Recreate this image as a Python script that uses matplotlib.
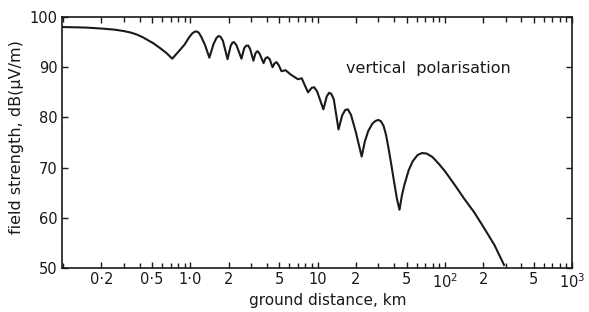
import numpy as np
import matplotlib
matplotlib.use('Agg')
import matplotlib.pyplot as plt
from matplotlib.ticker import FixedLocator, NullFormatter

# curve: ground distance (km) vs field strength (dB uV/m)
dist_km = [0.1, 0.15, 0.2, 0.25, 0.3, 0.34, 0.38, 0.42, 0.47, 0.51, 0.55, 0.6,
           0.65, 0.72, 0.8, 0.9, 0.98, 1.04, 1.09, 1.13, 1.17, 1.22, 1.3, 1.41,
           1.52, 1.6, 1.66, 1.72, 1.8, 1.96, 2.07, 2.14, 2.2, 2.3, 2.52, 2.65,
           2.75, 2.85, 2.95, 3.13, 3.25, 3.37, 3.5, 3.76, 3.9, 4.04, 4.2, 4.42,
           4.6, 4.76, 4.95, 5.2, 5.6, 6.1, 7.0, 7.5, 8.4, 9.0, 9.4, 9.9,
           11.1, 11.8, 12.3, 12.8, 13.4, 14.6, 15.6, 16.5, 17.3, 18.3, 20.0,
           22.2, 23.5, 25.0, 27.0, 28.5, 30.1, 31.5, 33.0, 34.5, 36.0, 38.0,
           40.0, 42.0, 44.0, 46.0, 48.0, 52.0, 56.0, 61.0, 66.0, 72.0, 80.0,
           90.0, 100.0, 120.0, 141.0, 170.0, 203.0, 245.0, 292.0]
field_db = [98.0, 97.9, 97.7, 97.5, 97.2, 96.9, 96.5, 96.0, 95.3, 94.8, 94.2, 93.5,
            92.8, 91.7, 93.0, 94.5, 96.0, 96.8, 97.1, 97.1, 96.8, 96.0, 94.5, 91.9,
            94.6, 95.8, 96.2, 96.1, 95.3, 91.6, 94.2, 94.9, 95.0, 94.4, 91.7, 93.8,
            94.3, 94.3, 93.6, 91.3, 92.8, 93.2, 92.7, 90.8, 91.8, 92.0, 91.6, 90.0,
            90.8, 91.0, 90.4, 89.2, 89.4, 88.6, 87.6, 87.8, 85.0, 85.9, 86.0, 85.2,
            81.6, 84.2, 84.9, 84.7, 83.6, 77.6, 80.4, 81.5, 81.6, 80.5, 77.0,
            72.2, 75.2, 77.3, 78.8, 79.3, 79.5, 79.2, 78.3, 76.5, 74.0, 70.5,
            67.0, 63.8, 61.6, 64.5, 66.5, 69.5, 71.3, 72.5, 72.9, 72.8, 72.1,
            70.7, 69.3, 66.5, 63.9, 61.1, 58.0, 54.6, 50.6]

major_x = [0.2, 0.5, 1, 2, 5, 10, 20, 50, 100, 200, 500, 1000]
major_lbl = ['0·2', '0·5', '1·0', '2', '5', '10', '2', '5',
             r'$\mathregular{10^2}$', '2', '5', r'$\mathregular{10^3}$']
y_ticks = [50, 60, 70, 80, 90, 100]

minor_x = []
for dec in [0.1, 1, 10, 100]:
    for m in range(1, 10):
        v = dec * m
        if v not in major_x and v >= 0.1:
            minor_x.append(v)

ink = '#1a1a1a'
plt.rcParams['font.family'] = ['DejaVu Sans']

fig = plt.figure(figsize=(5.89, 3.12), dpi=100)
ax = fig.add_axes([0.1053, 0.141, 0.866, 0.8045])

ax.plot(dist_km, field_db, color=ink, lw=1.5, solid_joinstyle='round')
ax.set_xscale('log')
ax.set_xlim(0.098, 1000)
ax.set_ylim(50, 100)

ax.xaxis.set_major_locator(FixedLocator(major_x))
ax.set_xticklabels(major_lbl)
ax.xaxis.set_minor_locator(FixedLocator(minor_x))
ax.xaxis.set_minor_formatter(NullFormatter())
ax.set_yticks(y_ticks)

ax.tick_params(axis='both', which='both', direction='in', top=True, right=True,
               color=ink, width=1.0, labelsize=10.5, labelcolor=ink)
ax.tick_params(axis='both', which='major', length=4.5, pad=3)
ax.tick_params(axis='both', which='minor', length=3.5)
for s in ax.spines.values():
    s.set_linewidth(1.2)
    s.set_color(ink)

ax.set_xlabel('ground distance, km', fontsize=11, color=ink)
ax.xaxis.set_label_coords(0.52, -0.10)
ax.set_ylabel('field strength, dB(μV/m)', fontsize=11.5, color=ink)
ax.yaxis.set_label_coords(-0.074, 0.52)

ax.text(16.6, 89.8, 'vertical  polarisation', fontsize=11.5, color=ink,
        ha='left', va='center')

fig.savefig('out.png', dpi=100)
